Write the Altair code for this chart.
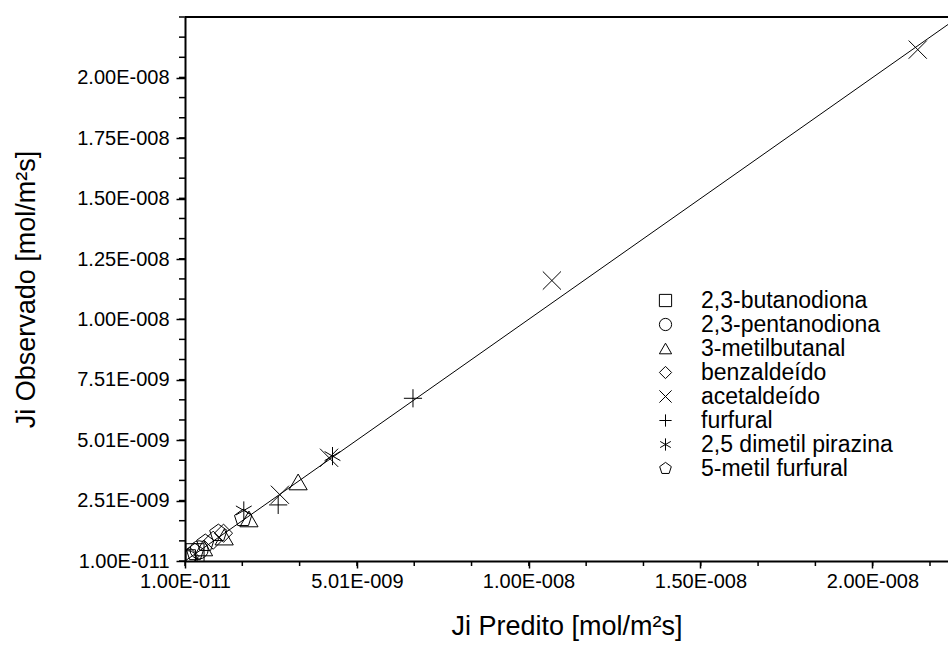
import altair as alt
import pandas as pd
import numpy as np

# Flux in mol/(m^2 s): predicted (x) and observed (y) for each compound
series_names = [
    "2,3-butanodiona", "2,3-pentanodiona", "3-metilbutanal", "benzaldeído",
    "acetaldeído", "furfural", "2,5 dimetil pirazina", "5-metil furfural",
]

butanodiona_pred = [0.05e-9, 0.30e-9]
butanodiona_obs = [0.10e-9, 0.35e-9]
pentanodiona_pred = [0.10e-9, 0.42e-9]
pentanodiona_obs = [0.06e-9, 0.47e-9]
metilbutanal_pred = [0.55e-9, 1.15e-9, 1.87e-9, 3.30e-9]
metilbutanal_obs = [0.55e-9, 1.00e-9, 1.75e-9, 3.28e-9]
benzaldeido_pred = [0.15e-9, 0.83e-9, 1.13e-9]
benzaldeido_obs = [0.20e-9, 0.87e-9, 1.16e-9]
acetaldeido_pred = [2.77e-9, 4.20e-9, 1.068e-8, 2.132e-8]
acetaldeido_obs = [2.75e-9, 4.28e-9, 1.161e-8, 2.116e-8]
furfural_pred = [2.72e-9, 6.64e-9]
furfural_obs = [2.33e-9, 6.74e-9]
pirazina_pred = [1.72e-9, 4.30e-9]
pirazina_obs = [2.10e-9, 4.35e-9]
metilfurfural_pred = [0.30e-9, 0.60e-9, 0.98e-9, 1.70e-9]
metilfurfural_obs = [0.37e-9, 0.75e-9, 1.16e-9, 1.78e-9]

# Axis ticks and their printed labels
x_tick_values = [1.00e-11, 5.01e-9, 1.00e-8, 1.50e-8, 2.00e-8]
x_tick_labels = ["1.00E-011", "5.01E-009", "1.00E-008", "1.50E-008", "2.00E-008"]
y_tick_values = [1.00e-11, 2.51e-9, 5.01e-9, 7.51e-9, 1.00e-8, 1.25e-8, 1.50e-8, 1.75e-8, 2.00e-8]
y_tick_labels = ["1.00E-011", "2.51E-009", "5.01E-009", "7.51E-009", "1.00E-008",
                 "1.25E-008", "1.50E-008", "1.75E-008", "2.00E-008"]

x_domain = [1.0e-11, 2.22e-8]
y_domain = [1.0e-11, 2.251e-8]

W, H = 763, 544
FONT = "Liberation Sans"

pairs = [
    (butanodiona_pred, butanodiona_obs), (pentanodiona_pred, pentanodiona_obs),
    (metilbutanal_pred, metilbutanal_obs), (benzaldeido_pred, benzaldeido_obs),
    (acetaldeido_pred, acetaldeido_obs), (furfural_pred, furfural_obs),
    (pirazina_pred, pirazina_obs), (metilfurfural_pred, metilfurfural_obs),
]
rows = []
for name, (px, py) in zip(series_names, pairs):
    for a, b in zip(px, py):
        rows.append({"pred": a, "obs": b, "comp": name})
points_df = pd.DataFrame(rows)

# Open marker shapes (custom paths in the unit square)
shapes = [
    "square",
    "circle",
    "triangle-up",
    "diamond",
    "M-1,-1L1,1M-1,1L1,-1",
    "M-1,0L1,0M0,-1L0,1",
    "M0,-1L0,1M-0.87,-0.5L0.87,0.5M-0.87,0.5L0.87,-0.5",
    "M0,-1L0.951,-0.309L0.588,0.809L-0.588,0.809L-0.951,-0.309Z",
]


def label_expr(values, labels):
    expr = "''"
    for v, s in reversed(list(zip(values, labels))):
        expr = f"abs(datum.value - {v!r}) < 1e-13 ? '{s}' : ({expr})"
    return expr


x_scale = alt.Scale(domain=x_domain, nice=False, zero=False)
y_scale = alt.Scale(domain=y_domain, nice=False, zero=False)

x_axis = alt.Axis(
    values=x_tick_values, labelExpr=label_expr(x_tick_values, x_tick_labels),
    title="Ji Predito [mol/m²s]", tickSize=7, labelPadding=3, titlePadding=22,
)
y_axis = alt.Axis(
    values=y_tick_values, labelExpr=label_expr(y_tick_values, y_tick_labels),
    title="Ji Observado [mol/m²s]", tickSize=9, labelPadding=7, titlePadding=36,
)

# y = x reference line
line_df = pd.DataFrame({"pred": [1.0e-11, 2.3e-8], "obs": [1.0e-11, 2.3e-8]})
line = alt.Chart(line_df).mark_line(color="black", strokeWidth=1, clip=True).encode(
    x=alt.X("pred:Q", scale=x_scale, axis=x_axis),
    y=alt.Y("obs:Q", scale=y_scale, axis=y_axis),
)

points = alt.Chart(points_df).mark_point(
    filled=False, color="black", strokeWidth=1, size=330, opacity=1, clip=True
).encode(
    x=alt.X("pred:Q", scale=x_scale),
    y=alt.Y("obs:Q", scale=y_scale),
    shape=alt.Shape(
        "comp:N",
        scale=alt.Scale(domain=series_names, range=shapes),
        legend=alt.Legend(
            title=None, orient="none", legendX=469, legendY=272,
            symbolSize=150, symbolStrokeWidth=1, symbolStrokeColor="black",
            symbolFillColor="transparent", labelFontSize=23, labelOffset=24,
            labelLimit=400, rowPadding=0, padding=0, labelFont=FONT,
            labelColor="black",
        ),
    ),
)

# Minor ticks (three divisions per major interval)
x_minor = [v for v in np.arange(1.0e-11, 2.23e-8, 5.0e-9 / 3)]
y_minor = [v for v in np.arange(1.0e-11, 2.26e-8, 2.5e-9 / 3)]
x_minor_ticks = alt.Chart(pd.DataFrame({"pred": x_minor})).mark_rule(
    color="black", strokeWidth=1.5
).encode(x=alt.X("pred:Q", scale=x_scale), y=alt.value(H), y2=alt.value(H + 5))
y_minor_ticks = alt.Chart(pd.DataFrame({"obs": y_minor})).mark_rule(
    color="black", strokeWidth=1.5
).encode(y=alt.Y("obs:Q", scale=y_scale), x=alt.value(-6), x2=alt.value(0))

top_border = alt.Chart(pd.DataFrame({"a": [0]})).mark_rule(
    color="black", strokeWidth=2
).encode(x=alt.value(0), x2=alt.value(W), y=alt.value(0))

chart = alt.layer(line, points, x_minor_ticks, y_minor_ticks, top_border).properties(
    width=W, height=H,
    background="white",
    autosize=alt.AutoSizeParams(type="none"),
    padding={"left": 185, "top": 17, "right": 0, "bottom": 85},
).configure_view(stroke=None).configure_axis(
    grid=False, domainColor="black", domainWidth=2, tickColor="black", tickWidth=1.5,
    labelFont=FONT, labelFontSize=20, labelColor="black", labelFlush=False,
    labelOverlap=False, labelBound=False,
    titleFont=FONT, titleFontSize=27, titleFontWeight="normal", titleColor="black",
)

chart.save("out.html", embed_options={"renderer": "svg", "actions": False})
